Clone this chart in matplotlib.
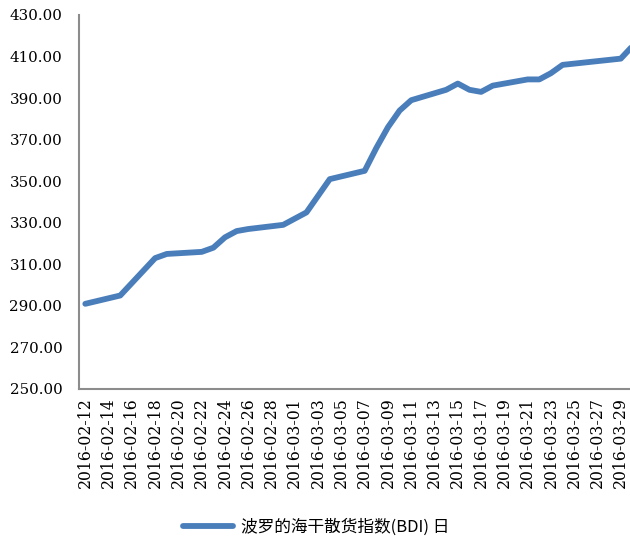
import matplotlib
matplotlib.use("Agg")
import matplotlib.pyplot as plt
import pandas as pd

# BDI daily values (trading days only)
dates = ['2016-02-12', '2016-02-15', '2016-02-16', '2016-02-17', '2016-02-18',
         '2016-02-19', '2016-02-22', '2016-02-23', '2016-02-24', '2016-02-25',
         '2016-02-26', '2016-02-29', '2016-03-01', '2016-03-02', '2016-03-03',
         '2016-03-04', '2016-03-07', '2016-03-08', '2016-03-09', '2016-03-10',
         '2016-03-11', '2016-03-14', '2016-03-15', '2016-03-16', '2016-03-17',
         '2016-03-18', '2016-03-21', '2016-03-22', '2016-03-23', '2016-03-24',
         '2016-03-29', '2016-03-30']
bdi = [291, 295, 301, 307, 313, 315, 316, 318, 323, 326, 327, 329, 332, 335,
       343, 351, 355, 366, 376, 384, 389, 394, 397, 394, 393, 396, 399, 399,
       402, 406, 409, 415]
series_name = '波罗的海干散货指数(BDI) 日'
yticks = [250, 270, 290, 310, 330, 350, 370, 390, 410, 430]

x = pd.to_datetime(dates)

fig = plt.figure(figsize=(6.3, 5.42), dpi=100)
ax = fig.add_axes([79 / 630, 153 / 542, 551 / 630, 374 / 542])

ax.plot(x, bdi, color='#4a7ebb', linewidth=4.2, solid_capstyle='round',
        solid_joinstyle='round', label=series_name)

ax.set_ylim(250, 430)
ax.set_yticks(yticks)
ax.set_yticklabels(['%.2f' % v for v in yticks], family='DejaVu Serif', fontsize=10.8)

# date axis, one label every two days
start = pd.Timestamp('2016-02-12')
ax.set_xlim(start - pd.Timedelta(hours=13), pd.Timestamp('2016-03-30') - pd.Timedelta(hours=5))
ticks = pd.date_range('2016-02-12', '2016-03-29', freq='2D')
ax.set_xticks(ticks)
ax.set_xticklabels([t.strftime('%Y-%m-%d') for t in ticks], rotation=90,
                   family='DejaVu Serif', fontsize=11.3)

ax.tick_params(axis='x', length=0, pad=6)
ax.tick_params(axis='y', length=0, pad=12)
for s in ['top', 'right']:
    ax.spines[s].set_visible(False)
for s in ['left', 'bottom']:
    ax.spines[s].set_color('#8c8c8c')
    ax.spines[s].set_linewidth(1.5)

fig.legend(loc='center', bbox_to_anchor=(0.5016, 0.028), frameon=False,
           handlelength=3.0, handletextpad=0.45,
           prop={'family': ['Noto Sans CJK SC', 'DejaVu Sans'], 'size': 12})

fig.savefig('out.png', dpi=100)
